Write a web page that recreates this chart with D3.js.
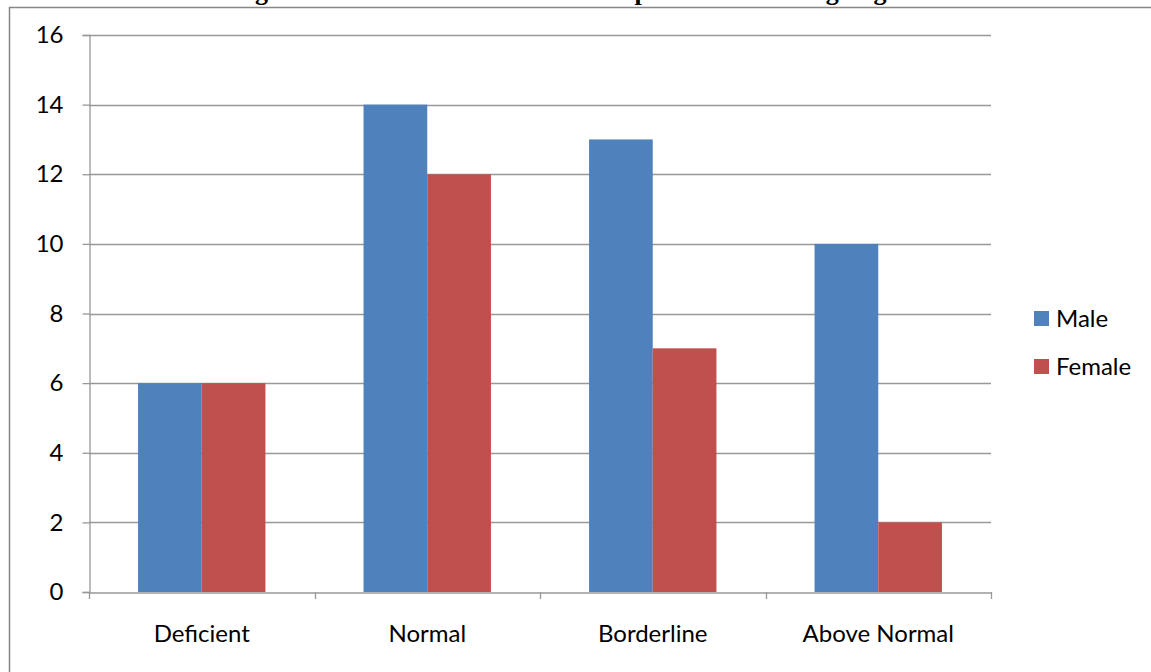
<!DOCTYPE html>
<html>
<head>
<meta charset="utf-8">
<script src="https://cdn.jsdelivr.net/npm/d3@7"></script>
<style>
  html, body { margin: 0; padding: 0; background: #fff; overflow: hidden; }
  svg { display: block; }
</style>
</head>
<body>
<svg id="chart" width="1151" height="672"></svg>
<script>
// Chart data
const categories = ["Deficient", "Normal", "Borderline", "Above Normal"];
const seriesNames = ["Male", "Female"];
const maleValues = [6, 14, 13, 10];
const femaleValues = [6, 12, 7, 2];
const yTicks = [0, 2, 4, 6, 8, 10, 12, 14, 16];
const seriesColors = ["#4F81BD", "#C0504D"];

const svg = d3.select("#chart");
const W = 1151, H = 672;
const plot = { left: 89, right: 991, top: 35, bottom: 592 };
const labelFont = "Lato, 'Noto Sans', sans-serif";
const labelSize = 24;

// Title, running off the top edge above the frame
svg.append("text")
  .attr("x", 591).attr("y", 0)
  .attr("text-anchor", "middle")
  .attr("font-family", "'Liberation Serif', 'Times New Roman', serif")
  .attr("font-weight", "bold")
  .attr("font-size", 26)
  .attr("fill", "#000")
  .text("Figure 1: Status of Vitamin D in the patients according to gender");

// Chart frame
svg.append("path")
  .attr("d", `M9.5,${H + 5} L9.5,7.5 L${W + 5},7.5`)
  .attr("fill", "none")
  .attr("stroke", "#868686")
  .attr("stroke-width", 1.5);

const x = d3.scaleBand().domain(categories).range([plot.left, plot.right]);
const x1 = d3.scaleBand().domain(seriesNames).range([0, x.bandwidth()]).paddingOuter(0.77).paddingInner(0);
const y = d3.scaleLinear().domain([0, 16]).range([plot.bottom, plot.top]);

// Horizontal gridlines
svg.append("g").selectAll("line")
  .data(yTicks.filter(d => d > 0))
  .join("line")
  .attr("x1", plot.left).attr("x2", plot.right)
  .attr("y1", d => Math.round(y(d)) + 0.5).attr("y2", d => Math.round(y(d)) + 0.5)
  .attr("stroke", "#989898").attr("stroke-width", 1.3);

// Bars
const data = categories.map((c, i) => ({ cat: c, values: [maleValues[i], femaleValues[i]] }));
svg.append("g").selectAll("g")
  .data(data)
  .join("g")
  .attr("transform", d => `translate(${x(d.cat)},0)`)
  .selectAll("rect")
  .data(d => d.values.map((v, j) => ({ name: seriesNames[j], v, j })))
  .join("rect")
  .attr("x", d => x1(d.name))
  .attr("width", x1.bandwidth())
  .attr("y", d => y(d.v))
  .attr("height", d => y(0) - y(d.v))
  .attr("fill", d => seriesColors[d.j]);

// Y axis
const yAxis = svg.append("g")
  .attr("transform", `translate(${plot.left + 0.5},0)`)
  .call(d3.axisLeft(y).tickValues(yTicks).tickSize(7).tickPadding(19).tickFormat(d3.format("d")));
yAxis.select(".domain").attr("stroke", "#989898").attr("stroke-width", 1.3);
yAxis.selectAll(".tick line").attr("stroke", "#989898").attr("stroke-width", 1.3);
yAxis.selectAll(".tick text")
  .attr("font-family", labelFont).attr("font-size", labelSize).attr("fill", "#000");

// X axis
const xAxis = svg.append("g")
  .attr("transform", `translate(0,${plot.bottom + 0.5})`)
  .call(d3.axisBottom(x).tickSize(0).tickPadding(32));
xAxis.select(".domain").attr("stroke", "#989898").attr("stroke-width", 1.3);
xAxis.selectAll(".tick text")
  .attr("font-family", labelFont).attr("font-size", labelSize).attr("fill", "#000");

// Category separator ticks on the x axis
svg.append("g").selectAll("line")
  .data(categories.map(c => x(c)).concat([plot.right]))
  .join("line")
  .attr("x1", d => Math.round(d) + 0.5).attr("x2", d => Math.round(d) + 0.5)
  .attr("y1", plot.bottom).attr("y2", plot.bottom + 7)
  .attr("stroke", "#989898").attr("stroke-width", 1.3);

// Legend
const legend = svg.append("g").attr("transform", "translate(1034,311)");
const item = legend.selectAll("g")
  .data(seriesNames)
  .join("g")
  .attr("transform", (d, i) => `translate(0,${i * 48})`);
item.append("rect")
  .attr("width", 15).attr("height", 15)
  .attr("fill", (d, i) => seriesColors[i]);
item.append("text")
  .attr("x", 22).attr("y", 7.5)
  .attr("dy", "0.35em")
  .attr("font-family", labelFont).attr("font-size", labelSize).attr("fill", "#000")
  .text(d => d);
</script>
</body>
</html>
